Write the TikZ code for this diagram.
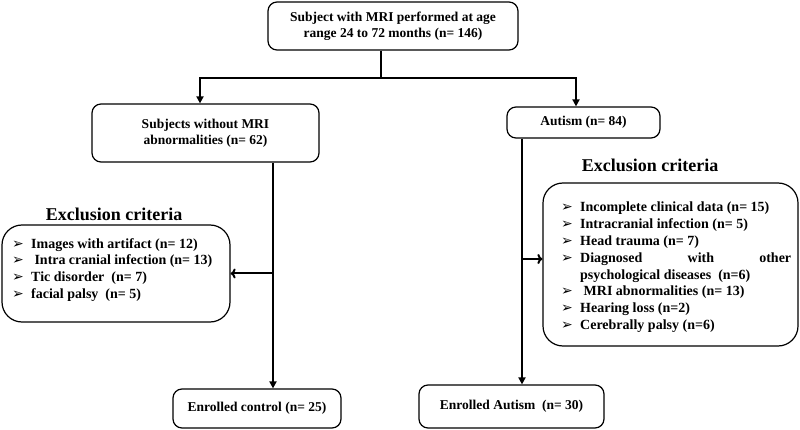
\documentclass[tikz,border=0pt]{standalone}
\usepackage{fontspec}
\setmainfont{Liberation Serif}
\newfontfamily\symfont{DejaVu Sans}
\usetikzlibrary{arrows.meta}

\newcommand{\arrowmark}{{\symfont\fontsize{14}{14}\selectfont ➢}}
\newcommand{\critem}[1]{\hangindent=19pt\hangafter=1\noindent\makebox[19pt][l]{\arrowmark}#1\par}

\tikzset{
  box/.style={draw, rounded corners=9pt, line width=1.2pt, align=center,
    font=\fontsize{13.5}{16}\selectfont\bfseries, inner sep=0pt},
  critbox/.style={box, rounded corners=20pt},
  crit/.style={anchor=north west, inner sep=0pt, align=justify,
    font=\fontsize{14}{16.8}\selectfont\bfseries},
  crittitle/.style={font=\fontsize{18}{20}\selectfont\bfseries},
  flow/.style={line width=2pt},
  flowarrow/.style={line width=2pt, -{Triangle[length=7pt,width=7pt]}},
  sidearrow/.style={line width=2pt, -{To[length=5pt,width=10pt]}}
}

\begin{document}
\begin{tikzpicture}[x=1pt,y=-1pt]
\useasboundingbox (0,0) rectangle (800,430);

\node[box, minimum width=250pt, minimum height=48pt] (top) at (393,26)
  {Subject with MRI performed at age\\range 24 to 72 months (n= 146)};
\node[box, minimum width=227pt, minimum height=58pt] (sub) at (205.5,133)
  {Subjects without MRI\\abnormalities (n= 62)};
\node[box, minimum width=153pt, minimum height=31pt] (aut) at (583.5,122.5)
  {Autism (n= 84)};

\node[crittitle] (exltitle) at (114,214) {Exclusion criteria};
\node[critbox, minimum width=228pt, minimum height=97pt] (exl) at (116,273.5) {};
\node[crit, text width=200pt] (exltext) at (12,238) {%
  \critem{Images with artifact (n= 12)}
  \critem{\ Intra cranial infection (n= 13)}
  \critem{Tic disorder\ \ (n= 7)}
  \critem{facial palsy\ \ (n= 5)}};

\node[crittitle] (exrtitle) at (650,165) {Exclusion criteria};
\node[critbox, minimum width=255pt, minimum height=163pt] (exr) at (670.5,264.5) {};
\node[crit, text width=230pt] (exrtext) at (561,202) {%
  \critem{Incomplete clinical data (n= 15)}
  \critem{Intracranial infection (n= 5)}
  \critem{Head trauma (n= 7)}
  \critem{Diagnosed with other\linebreak psychological diseases\ \ (n=6)}
  \critem{\ MRI abnormalities (n= 13)}
  \critem{Hearing loss (n=2)}
  \critem{Cerebrally palsy (n=6)}};

\node[box, minimum width=168pt, minimum height=39pt] (enc) at (257,408.5)
  {Enrolled control (n= 25)};
\node[box, minimum width=185pt, minimum height=43pt] (ena) at (511.5,406.5)
  {Enrolled Autism\ \ (n= 30)};

\coordinate (split) at (381,78);
\coordinate (lt) at (200,78);
\coordinate (rt) at (576,78);
\coordinate (lv) at (273,274);
\coordinate (rv) at (522,259);

\draw[flow] (top.south -| split) -- (split);
\draw[flowarrow] (split) -- (lt) -- (lt |- sub.north);
\draw[flowarrow] (split) -- (rt) -- (rt |- aut.north);

\draw[flowarrow] (sub.south -| lv) -- (enc.north -| lv);
\draw[sidearrow] (lv |- exl.east) -- (exl.east);

\draw[flowarrow] (aut.south -| rv) -- (ena.north -| rv);
\draw[sidearrow] (rv) -- (rv -| exr.west);

\end{tikzpicture}
\end{document}
